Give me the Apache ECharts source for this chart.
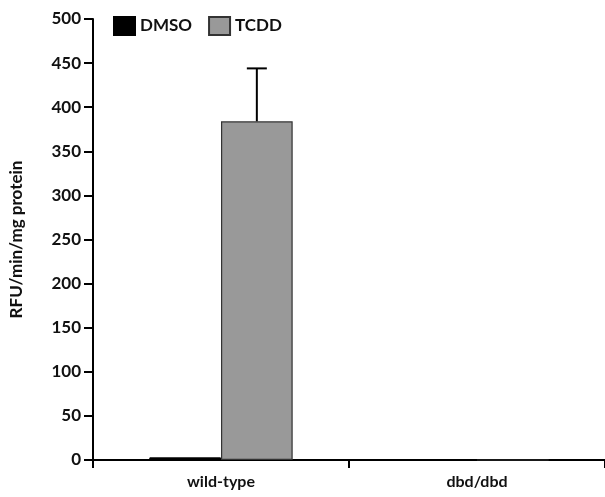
<!DOCTYPE html>
<html>
<head>
<meta charset="utf-8">
<script src="https://cdn.jsdelivr.net/npm/echarts@6/dist/echarts.min.js"></script>
<style>
  html, body { margin: 0; padding: 0; background: #fff; }
  #chart { width: 605px; height: 497px; }
</style>
</head>
<body>
<div id="chart"></div>
<script>
var categories = ['wild-type', 'dbd/dbd'];
var dmso = [3, 0];
var tcdd = [384, 0];
var tcddErr = [60, 0];   // upper error (SD)

var font = 'Lato, "Open Sans", sans-serif';
var chart = echarts.init(document.getElementById('chart'));

var option = {
  animation: false,
  textStyle: { fontFamily: font },
  legend: {
    left: 108,
    top: 11,
    icon: 'rect',
    itemWidth: 21,
    itemHeight: 18,
    itemGap: 16,
    textStyle: { fontSize: 17, fontWeight: 'bold', color: '#111', fontFamily: font },
    data: ['DMSO', 'TCDD']
  },
  grid: { left: 92, width: 518, top: 19, bottom: 37 },
  xAxis: {
    type: 'category',
    data: categories,
    axisLine: { lineStyle: { color: '#000', width: 2 } },
    axisTick: { show: true, length: 8, lineStyle: { color: '#000', width: 2 } },
    axisLabel: { fontSize: 16, fontWeight: 'bold', color: '#111', margin: 14 }
  },
  yAxis: {
    type: 'value',
    min: 0,
    max: 500,
    interval: 50,
    name: 'RFU/min/mg protein',
    nameLocation: 'middle',
    nameGap: 68,
    nameTextStyle: { fontSize: 17, fontWeight: 'bold', color: '#111' },
    axisLine: { show: true, lineStyle: { color: '#000', width: 2 } },
    axisTick: { show: true, length: 9, lineStyle: { color: '#000', width: 2 } },
    axisLabel: { fontSize: 17, fontWeight: 'bold', color: '#111', margin: 12 },
    splitLine: { show: false }
  },
  series: [
    {
      name: 'DMSO',
      type: 'bar',
      data: dmso,
      barWidth: '28%',
      barGap: '0%',
      itemStyle: { color: '#000', borderColor: '#000', borderWidth: 1 }
    },
    {
      name: 'TCDD',
      type: 'bar',
      data: tcdd,
      barWidth: '28%',
      barGap: '0%',
      itemStyle: { color: '#999', borderColor: '#333', borderWidth: 1.2 }
    },
    {
      name: 'err',
      type: 'custom',
      silent: true,
      data: tcdd.map(function (v, i) { return [i, v, v + tcddErr[i]]; }),
      renderItem: function (params, api) {
        var i = api.value(0);
        if (api.value(2) <= api.value(1)) return null;
        var band = api.size([1, 0])[0];
        var base = api.coord([i, api.value(1)]);
        var top = api.coord([i, api.value(2)]);
        var x = base[0] + band * 0.14;
        var style = { stroke: '#000', lineWidth: 2 };
        return {
          type: 'group',
          children: [
            { type: 'line', shape: { x1: x, y1: base[1], x2: x, y2: top[1] }, style: style },
            { type: 'line', shape: { x1: x - 10, y1: top[1], x2: x + 10, y2: top[1] }, style: style }
          ]
        };
      },
      z: 5
    }
  ]
};
chart.setOption(option);
</script>
</body>
</html>
